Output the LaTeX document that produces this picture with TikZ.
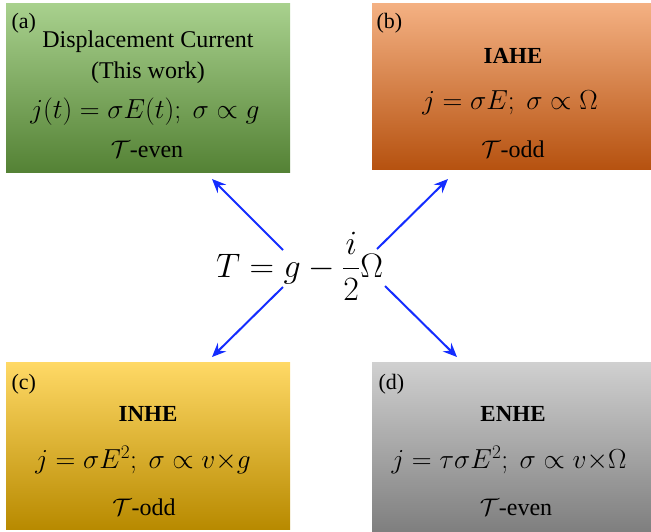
\documentclass[tikz,border=0pt]{standalone}
\usepackage{fix-cm}
\usepackage{fontspec}
\setmainfont{Liberation Serif}
\usepackage{amsmath}
\usepackage{xcolor}
\usepackage{tikz}
\usetikzlibrary{positioning,arrows.meta}

\definecolor{greentop}{RGB}{169,209,142}
\definecolor{greenbot}{RGB}{84,130,53}
\definecolor{orangetop}{RGB}{244,177,131}
\definecolor{orangebot}{RGB}{182,82,16}
\definecolor{yellowtop}{RGB}{255,217,102}
\definecolor{yellowmid}{RGB}{255,192,0}
\definecolor{yellowbot}{RGB}{184,138,0}
\definecolor{graytop}{RGB}{208,208,208}
\definecolor{graybot}{RGB}{127,127,127}
\definecolor{arrowblue}{RGB}{20,45,255}

\begin{document}
\begin{tikzpicture}[x=1pt, y=-1pt,
  panel/.style={inner sep=0pt, outer sep=0pt, minimum width=#1},
  tag/.style={anchor=base west, font=\fontsize{22}{26}\selectfont},
  title/.style={anchor=base, font=\fontsize{24}{28}\selectfont},
  bold/.style={anchor=base, font=\fontsize{23}{27}\selectfont\bfseries},
  law/.style={anchor=base, font=\fontsize{27.5}{32}\selectfont},
  parity/.style={anchor=base, font=\fontsize{24}{28}\selectfont},
  link/.style={-{Stealth[length=14pt, width=12pt, inset=5pt]}, arrowblue, line width=2pt}]
\useasboundingbox (0,0) rectangle (651,531);

% panels
\node[panel=284pt, minimum height=169pt, top color=greentop, bottom color=greenbot] (boxa) at (148,87.5) {};
\node[panel=279pt, minimum height=166pt, top color=orangetop, bottom color=orangebot] (boxb) at (511.5,86) {};
\node[panel=284pt, minimum height=167pt, top color=yellowtop, middle color=yellowmid, bottom color=yellowbot] (boxc) at (148,445.5) {};
\node[panel=279pt, minimum height=169pt, top color=graytop, bottom color=graybot] (boxd) at (511.5,446.5) {};

% (a) displacement current
\node[tag] (taga) at (8,28) {(a)};
\node[title] (namea) at (148,47) {Displacement Current};
\node[title] (worka) at (148,78) {(This work)};
\node[law] (lawa) at (145,118) {$j(t) = \sigma E(t);\ \sigma \propto g$};
\node[parity] (para) at (147,157) {$\mathcal{T}$-even};

% (b) IAHE
\node[tag] (tagb) at (373,28) {(b)};
\node[bold] (nameb) at (513,63) {IAHE};
\node[law] (lawb) at (510,109) {$j = \sigma E;\ \sigma \propto \Omega$};
\node[parity] (parb) at (513,157) {$\mathcal{T}$-odd};

% (c) INHE
\node[tag] (tagc) at (8,389) {(c)};
\node[bold] (namec) at (148,421) {INHE};
\node[law] (lawc) at (143,468) {$j = \sigma E^2;\ \sigma \propto v{\times}g$};
\node[parity] (parc) at (144,515) {$\mathcal{T}$-odd};

% (d) ENHE
\node[tag] (tagd) at (375,389) {(d)};
\node[bold] (named) at (513,421) {ENHE};
\node[law] (lawd) at (509,468) {$j = \tau\sigma E^2;\ \sigma \propto v{\times}\Omega$};
\node[parity] (pard) at (516,515) {$\mathcal{T}$-even};

% centre
\node[anchor=base, font=\fontsize{34}{40}\selectfont] (tensor) at (299.5,277) {$T = g - \dfrac{i}{2}\Omega$};

\coordinate (ula) at (283,250);
\coordinate (urb) at (377,249);
\coordinate (llc) at (283,287);
\coordinate (lrd) at (385,286);
\coordinate (tipa) at (212,179);
\coordinate (tipb) at (448,179);
\coordinate (tipc) at (212,357);
\coordinate (tipd) at (457,357);

\draw[link] (ula) -- (tipa);
\draw[link] (urb) -- (tipb);
\draw[link] (llc) -- (tipc);
\draw[link] (lrd) -- (tipd);
\end{tikzpicture}
\end{document}
